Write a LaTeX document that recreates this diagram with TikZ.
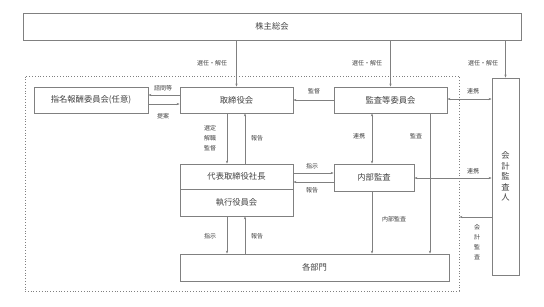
\documentclass[tikz,border=0pt]{standalone}
\usepackage{fontspec}
\setmainfont{Noto Sans CJK JP}
\usetikzlibrary{arrows.meta}
\definecolor{linegray}{HTML}{808080}
\definecolor{textgray}{HTML}{404040}
\tikzset{
  orgbox/.style={draw=linegray,line width=0.7pt,rectangle,inner sep=0pt,
    text=textgray,font=\fontsize{8.3}{10}\selectfont},
  lbl/.style={text=textgray,inner sep=0pt,align=center,
    font=\fontsize{6}{10}\selectfont}
}
\begin{document}
\begin{tikzpicture}[x=1pt,y=-1pt,>={Stealth[length=3pt,width=2.2pt]},
  line width=0.6pt,draw=linegray]
  \useasboundingbox (0,0) rectangle (544,306);

  % 枠と各機関
  \node[draw=linegray,dotted,line width=0.8pt,minimum width=434pt,minimum height=215pt] (frame) at (242,183.5) {};
  \node[orgbox,minimum width=498pt,minimum height=27pt] (soukai) at (272,26.5) {株主総会};
  \node[orgbox,minimum width=114pt,minimum height=26pt] (shimei) at (91,100) {指名報酬委員会(任意)};
  \node[orgbox,minimum width=113pt,minimum height=26pt] (torishimari) at (236.5,100) {取締役会};
  \node[orgbox,minimum width=113pt,minimum height=26pt] (kansa) at (390.5,100) {監査等委員会};
  \node[orgbox,minimum width=27pt,minimum height=197pt,align=center,
    font=\fontsize{8.3}{10.5}\selectfont] (kaikei) at (505.5,176.5) {会\\計\\監\\査\\人};
  \node[orgbox,minimum width=113pt,minimum height=25pt] (daihyo) at (236.5,176.5) {代表取締役社長};
  \node[orgbox,minimum width=113pt,minimum height=27pt] (shikko) at (236.5,202.5) {執行役員会};
  \node[orgbox,minimum width=80pt,minimum height=27pt] (naibu) at (374,177.5) {内部監査};
  \node[orgbox,minimum width=269pt,minimum height=27pt] (bumon) at (314.5,267.5) {各部門};

  % 矢印の位置
  \coordinate (c1) at (227,0);
  \coordinate (c2) at (245,0);
  \coordinate (c3) at (372,0);
  \coordinate (c4) at (430,0);
  \coordinate (r1) at (0,95);
  \coordinate (r2) at (0,104);
  \coordinate (r3) at (0,100);
  \coordinate (r4) at (0,99);
  \coordinate (r5) at (0,173);
  \coordinate (r6) at (0,182);
  \coordinate (r7) at (0,178);
  \coordinate (r8) at (0,217);

  % 株主総会から
  \draw[->] (soukai.south -| torishimari.north) -- (torishimari.north);
  \draw[->] (soukai.south -| kansa.north) -- (kansa.north);
  \draw[->] (soukai.south -| kaikei.north) -- (kaikei.north);
  \node[lbl] (l1) at (212,63) {選任・解任};
  \node[lbl] (l2) at (367,63) {選任・解任};
  \node[lbl] (l3) at (483,63) {選任・解任};

  % 取締役会と指名報酬委員会
  \draw[->] (torishimari.west |- r1) -- (shimei.east |- r1);
  \draw[->] (shimei.east |- r2) -- (torishimari.west |- r2);
  \node[lbl] (l4) at (163,88) {諮問等};
  \node[lbl] (l5) at (163,116) {提案};

  % 取締役会と代表取締役社長
  \draw[->] (torishimari.south -| c1) -- (daihyo.north -| c1);
  \draw[->] (daihyo.north -| c2) -- (torishimari.south -| c2);
  \node[lbl] (l6) at (210,138) {選定\\解職\\監督};
  \node[lbl] (l7) at (257,138) {報告};

  % 監査等委員会
  \draw[->] (kansa.west |- r3) -- (torishimari.east |- r3);
  \node[lbl] (l8) at (314,91) {監督};
  \draw[<->] (kansa.east |- r4) -- (kaikei.west |- r4);
  \node[lbl] (l9) at (473,91) {連携};
  \draw[<->] (kansa.south -| c3) -- (naibu.north -| c3);
  \node[lbl] (l10) at (359,136) {連携};
  \draw[->] (kansa.south -| c4) -- (bumon.north -| c4);
  \node[lbl] (l11) at (416,136) {監査};

  % 代表取締役社長と内部監査
  \draw[->] (daihyo.east |- r5) -- (naibu.west |- r5);
  \draw[->] (naibu.west |- r6) -- (daihyo.east |- r6);
  \node[lbl] (l12) at (312,166) {指示};
  \node[lbl] (l13) at (312,190) {報告};
  \draw[<->] (naibu.east |- r7) -- (kaikei.west |- r7);
  \node[lbl] (l14) at (473,171) {連携};
  \draw[->] (naibu.south -| c3) -- (bumon.north -| c3);
  \node[lbl] (l15) at (394,219) {内部監査};

  % 会計監査人から
  \draw[->] (kaikei.west |- r8) -- (frame.east |- r8);
  \node[lbl] (l16) at (477,242) {会\\計\\監\\査};

  % 執行役員会と各部門
  \draw[->] (shikko.south -| c1) -- (bumon.north -| c1);
  \draw[->] (bumon.north -| c2) -- (shikko.south -| c2);
  \node[lbl] (l17) at (210,236) {指示};
  \node[lbl] (l18) at (257,236) {報告};
\end{tikzpicture}
\end{document}
